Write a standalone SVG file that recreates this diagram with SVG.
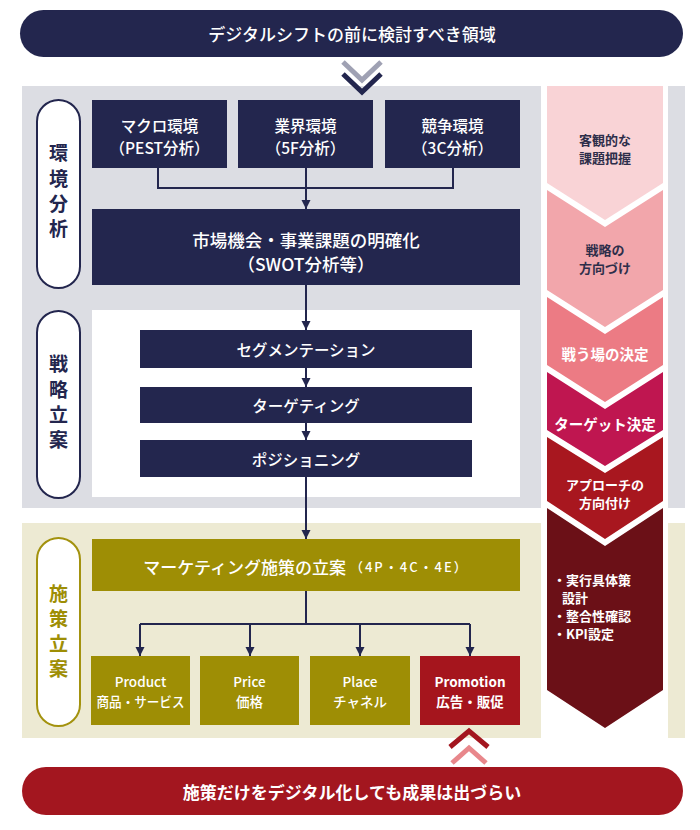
<svg xmlns="http://www.w3.org/2000/svg" width="700" height="830" viewBox="0 0 700 830">
<style>
text{font-family:"Noto Sans CJK JP","Noto Sans",sans-serif;text-anchor:middle;dominant-baseline:central}
.navy{fill:#23264e}
.olive{fill:#9e8e05}
.wt{fill:#ffffff;font-size:15.5px;font-weight:500}
.sm{fill:#ffffff;font-size:13.5px;font-weight:500}
.big{fill:#ffffff;font-size:17.5px;font-weight:500}
.lbl{font-size:19px;font-weight:700}
.cv{font-size:13px;font-weight:700}
.cv1{font-size:14.5px;font-weight:700}
.cvl{font-size:13px;font-weight:700;fill:#ffffff;text-anchor:start}
.pill{fill:#ffffff;stroke-width:2}
.conn{fill:none;stroke:#23264e;stroke-width:2}
</style>
<defs>
<marker id="ah" markerUnits="userSpaceOnUse" markerWidth="10" markerHeight="10" refX="9" refY="5" orient="auto">
<path d="M0,0.5 L9,5 L0,9.5 z" fill="#23264e"/>
</marker>
</defs>

<!-- backgrounds -->
<g id="backgrounds">
<rect x="22" y="86" width="519" height="422" fill="#dcdde3"/>
<rect x="668" y="86" width="17" height="422" fill="#dcdde3"/>
<rect x="92" y="310" width="428" height="187" fill="#ffffff"/>
<rect x="22" y="523" width="519" height="215" fill="#edead3"/>
<rect x="668" y="523" width="17" height="215" fill="#edead3"/>
</g>

<g id="top-banner">
<rect x="20" y="10" width="663" height="47" rx="23.5" class="navy"/>
<text x="352" y="33.5" fill="#ffffff" font-size="17" font-weight="500">デジタルシフトの前に検討すべき領域</text>
</g>

<g id="top-chevron" fill="none" stroke-width="5">
<polyline points="343,62 362,80 381,62" stroke="#9fa1b3"/>
<polyline points="343,74 362,92 381,74" stroke="#23264e"/>
</g>

<g id="bottom-chevron" fill="none" stroke-width="5">
<polyline points="450,747 469,731 488,747" stroke="#a3161f"/>
<polyline points="452,763 469,748 486,763" stroke="#e8878b"/>
</g>

<g id="bottom-banner">
<rect x="22" y="767" width="661" height="48" rx="24" fill="#a3161f"/>
<text x="352" y="791" fill="#ffffff" font-size="17" font-weight="700">施策だけをデジタル化しても成果は出づらい</text>
</g>

<!-- left phase labels -->
<g id="label-env">
<rect x="37" y="100" width="43" height="188" rx="21.5" class="pill" stroke="#23264e"/>
<text x="58.5" y="151" class="lbl navy">環</text>
<text x="58.5" y="177" class="lbl navy">境</text>
<text x="58.5" y="202" class="lbl navy">分</text>
<text x="58.5" y="227" class="lbl navy">析</text>
</g>
<g id="label-strategy">
<rect x="37" y="311" width="43" height="187" rx="21.5" class="pill" stroke="#23264e"/>
<text x="58.5" y="362" class="lbl navy">戦</text>
<text x="58.5" y="388" class="lbl navy">略</text>
<text x="58.5" y="413" class="lbl navy">立</text>
<text x="58.5" y="438" class="lbl navy">案</text>
</g>
<g id="label-measures">
<rect x="37" y="538" width="43" height="188" rx="21.5" class="pill" stroke="#a3920e"/>
<text x="58.5" y="592" class="lbl olive">施</text>
<text x="58.5" y="617" class="lbl olive">策</text>
<text x="58.5" y="642" class="lbl olive">立</text>
<text x="58.5" y="667" class="lbl olive">案</text>
</g>

<!-- nodes -->
<g id="macro">
<rect x="92" y="100" width="135" height="68" class="navy"/>
<text x="159.5" y="125" class="wt">マクロ環境</text>
<text x="159.5" y="147" class="wt">（PEST分析）</text>
</g>
<g id="industry">
<rect x="238" y="100" width="135" height="68" class="navy"/>
<text x="305.5" y="125" class="wt">業界環境</text>
<text x="305.5" y="147" class="wt">（5F分析）</text>
</g>
<g id="competition">
<rect x="385" y="100" width="135" height="68" class="navy"/>
<text x="452.5" y="125" class="wt">競争環境</text>
<text x="452.5" y="147" class="wt">（3C分析）</text>
</g>
<g id="swot">
<rect x="92" y="209" width="428" height="76" class="navy"/>
<text x="306" y="239" class="big">市場機会・事業課題の明確化</text>
<text x="306" y="263" class="big">（SWOT分析等）</text>
</g>
<g id="segmentation">
<rect x="140" y="330" width="332" height="38" class="navy"/>
<text x="306" y="349" class="wt">セグメンテーション</text>
</g>
<g id="targeting">
<rect x="140" y="387" width="332" height="36" class="navy"/>
<text x="306" y="405" class="wt">ターゲティング</text>
</g>
<g id="positioning">
<rect x="140" y="440" width="332" height="37" class="navy"/>
<text x="306" y="458.5" class="wt">ポジショニング</text>
</g>
<g id="marketing">
<rect x="92" y="539" width="428" height="52" class="olive"/>
<text x="306" y="566" fill="#ffffff" font-size="17" font-weight="500">マーケティング施策の立案<tspan font-size="13" letter-spacing="2" dx="4">（4P・4C・4E）</tspan></text>
</g>
<g id="product">
<rect x="91" y="656" width="99" height="69" class="olive"/>
<text x="140.5" y="681" class="sm">Product</text>
<text x="140.5" y="701" class="sm" textLength="88" lengthAdjust="spacingAndGlyphs">商品・サービス</text>
</g>
<g id="price">
<rect x="200" y="656" width="99" height="69" class="olive"/>
<text x="249.5" y="681" class="sm">Price</text>
<text x="249.5" y="701" class="sm">価格</text>
</g>
<g id="place">
<rect x="310" y="656" width="100" height="69" class="olive"/>
<text x="360" y="681" class="sm">Place</text>
<text x="360" y="701" class="sm">チャネル</text>
</g>
<g id="promotion">
<rect x="420" y="656" width="100" height="69" fill="#a5151d"/>
<text x="470" y="681" fill="#ffffff" font-size="13.5" font-weight="700">Promotion</text>
<text x="470" y="701" fill="#ffffff" font-size="13.5" font-weight="700">広告・販促</text>
</g>

<!-- right column chevrons -->
<g id="step-1">
<polygon points="547,86 663,86 663,183 605,220 547,183" fill="#f9d3d6"/>
<text x="605" y="139" class="cv" fill="#2e2e4a">客観的な</text>
<text x="605" y="157" class="cv" fill="#2e2e4a">課題把握</text>
</g>
<g id="step-2">
<polygon points="547,190 605,227 663,190 663,290 605,327 547,290" fill="#f2a6ab"/>
<text x="605" y="249" class="cv" fill="#2e2e4a">戦略の</text>
<text x="605" y="267" class="cv" fill="#2e2e4a">方向づけ</text>
</g>
<g id="step-3">
<polygon points="547,297 605,334 663,297 663,365 605,402 547,365" fill="#ec7b84"/>
<text x="605" y="353" class="cv1" fill="#ffffff">戦う場の決定</text>
</g>
<g id="step-4">
<polygon points="547,372 605,409 663,372 663,430 605,466 547,430" fill="#bf1650"/>
<text x="605" y="423" class="cv1" fill="#ffffff">ターゲット決定</text>
</g>
<g id="step-5">
<polygon points="547,437 605,473 663,437 663,501 605,539 547,501" fill="#a8171f"/>
<text x="605" y="484" class="cv" fill="#ffffff">アプローチの</text>
<text x="605" y="502" class="cv" fill="#ffffff">方向付け</text>
</g>
<g id="step-6">
<polygon points="547,508 605,546 663,508 663,690 605,728 547,690" fill="#6b1017"/>
<text x="553" y="579" class="cvl">・実行具体策</text>
<text x="562" y="597" class="cvl">設計</text>
<text x="553" y="615" class="cvl">・整合性確認</text>
<text x="553" y="633" class="cvl">・KPI設定</text>
</g>

<!-- connectors -->
<g id="connectors">
<path class="conn" d="M158,168 V188 H453 V168"/>
<path class="conn" d="M306,168 V209" marker-end="url(#ah)"/>
<path class="conn" d="M306,285 V330" marker-end="url(#ah)"/>
<path class="conn" d="M306,368 V387" marker-end="url(#ah)"/>
<path class="conn" d="M306,423 V440" marker-end="url(#ah)"/>
<path class="conn" d="M306,477 V539" marker-end="url(#ah)"/>
<path class="conn" d="M306,591 V624 M140,624 H470"/>
<path class="conn" d="M140,624 V656" marker-end="url(#ah)"/>
<path class="conn" d="M250,624 V656" marker-end="url(#ah)"/>
<path class="conn" d="M360,624 V656" marker-end="url(#ah)"/>
<path class="conn" d="M470,624 V656" marker-end="url(#ah)"/>
</g>
</svg>
